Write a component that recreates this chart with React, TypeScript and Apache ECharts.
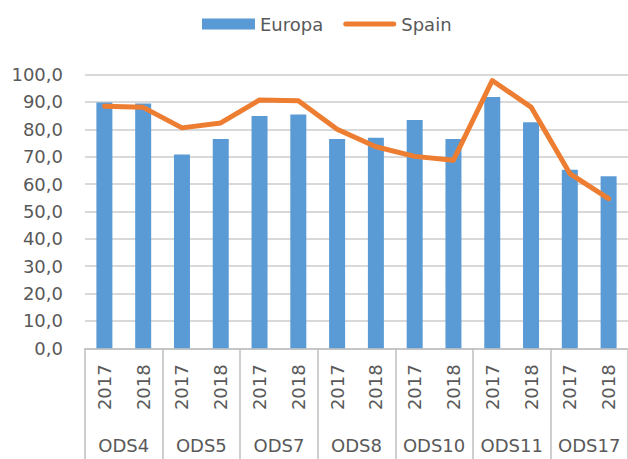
import React, { useEffect, useRef } from "react";
import * as echarts from "echarts";

const years = ["2017", "2018", "2017", "2018", "2017", "2018", "2017", "2018", "2017", "2018", "2017", "2018", "2017", "2018"];
const groups = ["ODS4", "ODS5", "ODS7", "ODS8", "ODS10", "ODS11", "ODS17"];
const europa = [89.8, 89.4, 70.8, 76.4, 84.8, 85.4, 76.4, 76.9, 83.4, 76.4, 91.8, 82.6, 65.2, 62.8];
const spain = [88.4, 88.0, 80.5, 82.3, 90.7, 90.4, 80.0, 73.6, 70.1, 68.7, 97.8, 88.1, 63.8, 54.7];

const FONT = "DejaVu Sans";
const TXT = "#595959";
const LINE_ICON = "path://M0,0L0.01,0L0,0Z M2.5,3A2.5,2.5 0 0 0 2.5,8L50.5,8A2.5,2.5 0 0 0 50.5,3Z M53,11L52.99,11L53,11Z";

export default function App() {
  const ref = useRef<HTMLDivElement>(null);
  useEffect(() => {
    if (!ref.current) return;
    const chart = echarts.init(ref.current, undefined, { renderer: "svg" });
    chart.setOption({
      animation: false,
      backgroundColor: "#ffffff",
      textStyle: { fontFamily: FONT },
      legend: {
        left: 197,
        top: 10,
        itemWidth: 53,
        itemHeight: 11,
        itemGap: 20,
        textStyle: { color: TXT, fontSize: 18, fontFamily: FONT },
        data: [
          { name: "Europa", icon: "rect" },
          { name: "Spain", icon: LINE_ICON, itemStyle: { color: "#ed7d31" } },
        ],
      },
      grid: { left: 85, right: 0, top: 74.5, bottom: 110.7, containLabel: false },
      xAxis: [
        {
          type: "category",
          data: years,
          position: "bottom",
          axisLine: { show: true, lineStyle: { color: "#bfbfbf", width: 1.5 } },
          axisTick: { show: false },
          axisLabel: {
            rotate: 90,
            interval: 0,
            margin: 16,
            color: TXT,
            fontSize: 18,
            fontFamily: FONT,
          },
        },
        {
          type: "category",
          data: groups,
          position: "bottom",
          axisLine: { show: false },
          axisTick: { show: true, interval: 0, length: 112, lineStyle: { color: "#bfbfbf", width: 1.5 } },
          axisLabel: {
            interval: 0,
            margin: 88,
            color: TXT,
            fontSize: 18,
            fontFamily: FONT,
          },
        },
      ],
      yAxis: {
        type: "value",
        min: 0,
        max: 100,
        interval: 10,
        axisLine: { show: false },
        axisTick: { show: false },
        axisLabel: {
          margin: 22,
          color: TXT,
          fontSize: 18,
          fontFamily: FONT,
          formatter: (v: number) => v.toFixed(1).replace(".", ","),
        },
        splitLine: { lineStyle: { color: "#d9d9d9", width: 2 } },
      },
      series: [
        {
          name: "Europa",
          type: "bar",
          xAxisIndex: 0,
          data: europa,
          barWidth: 16,
          itemStyle: { color: "#5b9bd5" },
        },
        {
          name: "Spain",
          type: "line",
          xAxisIndex: 0,
          data: spain,
          symbol: "none",
          lineStyle: { color: "#ed7d31", width: 5, join: "round", cap: "round" },
          itemStyle: { color: "#ed7d31" },
        },
      ],
    });
    return () => chart.dispose();
  }, []);
  return (
    <div
      ref={ref}
      style={{ position: "fixed", left: 0, top: 0, width: 628, height: 459 }}
    />
  );
}
